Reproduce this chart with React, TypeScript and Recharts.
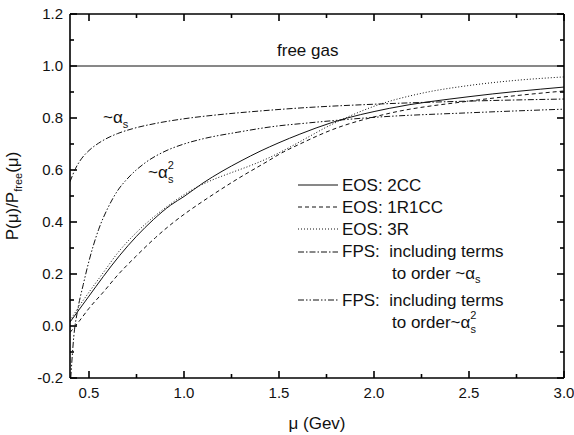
// P(mu)/P_free(mu) versus mu — EOS curves vs. perturbative (FPS) results (Recharts)
import { LineChart, Line, XAxis, YAxis, Customized } from 'recharts';

const FONT = '"Liberation Sans", Arial, Helvetica, sans-serif';
const INK = '#111';

// free gas limit
const MU_FREE = [0.4, 3.0];
const P_FREE = [1.0, 1.0];

// EOS: 2CC (solid)
const MU_2CC = [0.40, 0.45, 0.50, 0.575, 0.66, 0.75, 0.84, 0.93, 1.0, 1.10, 1.20, 1.30, 1.40, 1.50, 1.61, 1.78, 2.08, 2.50, 3.00];
const P_2CC = [0.015, 0.065, 0.115, 0.19, 0.27, 0.345, 0.41, 0.465, 0.498, 0.55, 0.595, 0.635, 0.672, 0.705, 0.738, 0.783, 0.837, 0.882, 0.919];

// EOS: 1R1CC (dashed)
const MU_1R1CC = [0.40, 0.45, 0.50, 0.575, 0.65, 0.75, 0.85, 0.93, 1.03, 1.10, 1.28, 1.45, 1.50, 1.61, 1.78, 2.08, 2.50, 3.00];
const P_1R1CC = [-0.025, 0.02, 0.068, 0.13, 0.195, 0.27, 0.34, 0.39, 0.445, 0.48, 0.565, 0.638, 0.66, 0.70, 0.755, 0.818, 0.865, 0.904];

// EOS: 3R (dotted)
const MU_3R = [0.40, 0.45, 0.50, 0.575, 0.65, 0.75, 0.85, 0.94, 1.0, 1.07, 1.15, 1.25, 1.35, 1.45, 1.55, 1.65, 1.75, 1.85, 2.0, 2.25, 2.50, 2.75, 3.00];
const P_3R = [0.02, 0.078, 0.13, 0.205, 0.28, 0.36, 0.425, 0.475, 0.505, 0.535, 0.562, 0.59, 0.617, 0.648, 0.685, 0.725, 0.765, 0.80, 0.845, 0.895, 0.925, 0.945, 0.958];

// FPS to order ~alpha_s (dash-dot)
const MU_AS = [0.40, 0.43, 0.46, 0.50, 0.55, 0.60, 0.65, 0.73, 0.85, 1.0, 1.2, 1.4, 1.6, 2.0, 2.5, 3.0];
const P_AS = [0.555, 0.607, 0.643, 0.675, 0.703, 0.724, 0.74, 0.759, 0.779, 0.797, 0.814, 0.827, 0.838, 0.853, 0.865, 0.873];

// FPS to order ~alpha_s^2 (dash-dot-dot)
const MU_AS2 = [0.404, 0.42, 0.44, 0.47, 0.50, 0.55, 0.60, 0.65, 0.70, 0.80, 0.90, 1.0, 1.10, 1.28, 1.50, 1.61, 2.03, 2.50, 3.00];
const P_AS2 = [-0.2, -0.04, 0.06, 0.16, 0.25, 0.37, 0.455, 0.52, 0.565, 0.63, 0.672, 0.70, 0.72, 0.745, 0.77, 0.778, 0.804, 0.82, 0.834];

const X_MAJOR = [0.5, 1.0, 1.5, 2.0, 2.5, 3.0];
const X_MINOR = [0.75, 1.25, 1.75, 2.25, 2.75];
const Y_MAJOR = [-0.2, 0, 0.2, 0.4, 0.6, 0.8, 1.0, 1.2];
const Y_MINOR = [-0.1, 0.1, 0.3, 0.5, 0.7, 0.9, 1.1];

const X_DOMAIN = [0.4, 3.0];
const Y_DOMAIN = [-0.2, 1.2];

// plot box (matches the chart margins below)
const BOX = { left: 70, top: 14, width: 494, height: 364 };

const rows = (mu: number[], p: number[]) => mu.map((m, i) => ({ mu: m, p: p[i] }));

const DASH_1R1CC = '4 3';
const DASH_3R = '1 2';
const DASH_AS = '6 2 1.5 2';
const DASH_AS2 = '6 2 1.5 2 1.5 2';

const SERIES = [
  { key: 'eos2cc', data: rows(MU_2CC, P_2CC), dash: undefined },
  { key: 'eos1r1cc', data: rows(MU_1R1CC, P_1R1CC), dash: DASH_1R1CC },
  { key: 'eos3r', data: rows(MU_3R, P_3R), dash: DASH_3R },
  { key: 'fpsAs', data: rows(MU_AS, P_AS), dash: DASH_AS },
  { key: 'fpsAs2', data: rows(MU_AS2, P_AS2), dash: DASH_AS2 },
];

function BottomLabel({ x, y, payload }: any) {
  return (
    <text x={x} y={y + 20} textAnchor="middle" fontSize={15} fontFamily={FONT} fill={INK}>
      {payload.value.toFixed(1)}
    </text>
  );
}

function LeftLabel({ x, y, payload }: any) {
  return (
    <text x={x - 7} y={y + 5.4} textAnchor="end" fontSize={15} fontFamily={FONT} fill={INK}>
      {payload.value.toFixed(1)}
    </text>
  );
}

// inward tick marks on the four sides of the frame
function FrameTicks() {
  const { left, top, width, height } = BOX;
  const right = left + width;
  const bottom = top + height;
  const px = (v: number) => left + ((v - X_DOMAIN[0]) / (X_DOMAIN[1] - X_DOMAIN[0])) * width;
  const py = (v: number) => bottom - ((v - Y_DOMAIN[0]) / (Y_DOMAIN[1] - Y_DOMAIN[0])) * height;
  const xt = [...X_MAJOR.map((v) => [v, 7]), ...X_MINOR.map((v) => [v, 4])];
  const yt = [...Y_MAJOR.map((v) => [v, 7]), ...Y_MINOR.map((v) => [v, 4])];
  const st = { stroke: '#000', strokeWidth: 1.6 };
  return (
    <g>
      {xt.map(([v, len]) => (
        <g key={`x${v}`}>
          <line x1={px(v)} x2={px(v)} y1={bottom} y2={bottom - len} {...st} />
          <line x1={px(v)} x2={px(v)} y1={top} y2={top + len} {...st} />
        </g>
      ))}
      {yt.map(([v, len]) => (
        <g key={`y${v}`}>
          <line x1={left} x2={left + len} y1={py(v)} y2={py(v)} {...st} />
          <line x1={right} x2={right - len} y1={py(v)} y2={py(v)} {...st} />
        </g>
      ))}
    </g>
  );
}

function LegendBox() {
  const line = (y: number, dash?: string) => (
    <line x1={298} x2={338} y1={y} y2={y} stroke={INK} strokeWidth={1} strokeDasharray={dash} />
  );
  const txt = { fontSize: 17, fontFamily: FONT, fill: INK } as const;
  return (
    <g>
      {line(185, undefined)}
      <text x={342} y={191} {...txt}>EOS: 2CC</text>
      {line(207, DASH_1R1CC)}
      <text x={342} y={213} {...txt}>EOS: 1R1CC</text>
      {line(229, DASH_3R)}
      <text x={342} y={235} {...txt}>EOS: 3R</text>
      {line(252, DASH_AS)}
      <text x={342} y={257} {...txt} style={{ whiteSpace: 'pre' }}>FPS:  including terms</text>
      <text x={392} y={279} {...txt}>
        to order ~α<tspan fontSize={11} dy={4}>s</tspan>
      </text>
      {line(300, DASH_AS2)}
      <text x={342} y={306} {...txt} style={{ whiteSpace: 'pre' }}>FPS:  including terms</text>
      <text x={392} y={328} {...txt}>
        to order~α<tspan fontSize={11} dy={-9}>2</tspan>
        <tspan fontSize={11} dx={-6} dy={14}>s</tspan>
      </text>
    </g>
  );
}

function Annotations() {
  const txt = { fontFamily: FONT, fill: INK } as const;
  return (
    <g>
      <FrameTicks />
      <text x={277} y={56} fontSize={17} {...txt}>free gas</text>
      <text x={103} y={123} fontSize={17} {...txt}>
        ~α<tspan fontSize={11} dy={5}>s</tspan>
      </text>
      <text x={148} y={178} fontSize={17} {...txt}>
        ~α<tspan fontSize={11} dy={-9}>2</tspan>
        <tspan fontSize={11} dx={-6} dy={14}>s</tspan>
      </text>
      <text x={317} y={429} fontSize={17} textAnchor="middle" {...txt}>μ (Gev)</text>
      <text transform="translate(18,196) rotate(-90)" fontSize={17} textAnchor="middle" {...txt}>
        P(μ)/P<tspan fontSize={11} dy={4}>free</tspan>
        <tspan dy={-4}>(μ)</tspan>
      </text>
      <LegendBox />
    </g>
  );
}

const axisLine = { stroke: '#000', strokeWidth: 1.6 };

export default function App() {
  return (
    <div style={{ position: 'absolute', left: 0, top: 0, background: '#fff' }}>
      <LineChart width={574} height={435} margin={{ top: 13, right: 9, bottom: 56, left: 69 }}>
        <XAxis type="number" dataKey="mu" domain={X_DOMAIN} ticks={X_MAJOR} interval={0} allowDataOverflow
          height={1} tickSize={0} tickMargin={0} tickLine={false} axisLine={axisLine} tick={<BottomLabel />} />
        <XAxis xAxisId="top" orientation="top" type="number" dataKey="mu" domain={X_DOMAIN} ticks={X_MAJOR}
          allowDataOverflow height={1} tickLine={false} axisLine={axisLine} tick={false} />
        <YAxis type="number" domain={Y_DOMAIN} ticks={Y_MAJOR} interval={0} allowDataOverflow
          width={1} tickSize={0} tickMargin={0} tickLine={false} axisLine={axisLine} tick={<LeftLabel />} />
        <YAxis yAxisId="right" orientation="right" type="number" domain={Y_DOMAIN} ticks={Y_MAJOR}
          allowDataOverflow width={1} tickLine={false} axisLine={axisLine} tick={false} />

        <Line
          data={rows(MU_FREE, P_FREE)}
          dataKey="p"
          type="linear"
          stroke={INK}
          strokeWidth={1}
          dot={false}
          activeDot={false}
          isAnimationActive={false}
        />
        {SERIES.map((s) => (
          <Line
            key={s.key}
            name={s.key}
            data={s.data}
            dataKey="p"
            type="monotone"
            stroke={INK}
            strokeWidth={1}
            strokeDasharray={s.dash}
            dot={false}
            activeDot={false}
            isAnimationActive={false}
          />
        ))}
        {/* mirror axes get their domain from a hidden copy of the free gas line */}
        <Line
          xAxisId="top"
          yAxisId="right"
          data={rows(MU_FREE, P_FREE)}
          dataKey="p"
          stroke="none"
          dot={false}
          activeDot={false}
          isAnimationActive={false}
        />
        <Customized component={Annotations} />
      </LineChart>
    </div>
  );
}
